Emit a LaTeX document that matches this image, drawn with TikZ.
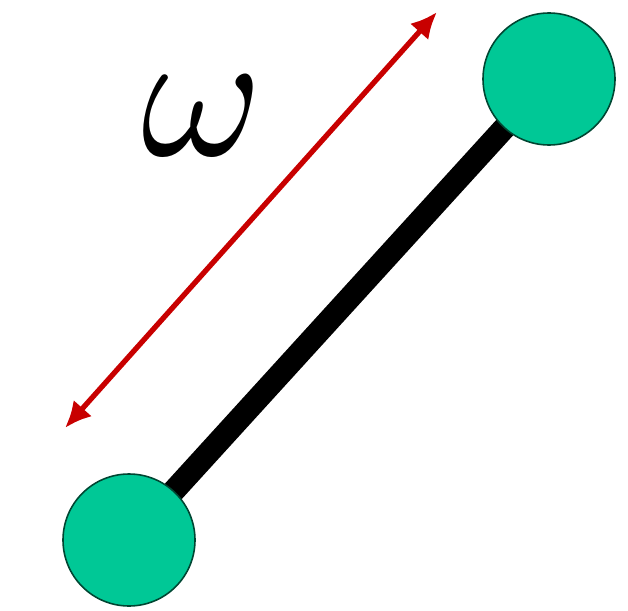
\documentclass[tikz,border=0pt]{standalone}
\usepackage{amsmath, amssymb}
\usepackage{xcolor}
\usepackage{tikz}
\usetikzlibrary{calc, arrows.meta, backgrounds, positioning}

\definecolor{ballgreen}{RGB}{0,200,150}
\definecolor{balledge}{RGB}{0,70,50}
\definecolor{dimred}{RGB}{200,0,0}

\begin{document}
\begin{tikzpicture}[>={Latex[length=15pt,width=14pt]}, x=0.02cm, y=-0.02cm,
    ball/.style={circle, draw=balledge, line width=0.9pt, fill=ballgreen, minimum size=132*0.02cm, inner sep=0pt},
    bar/.style={line width=13pt, black},
    dim/.style={<->, line width=3pt, dimred}]
    \useasboundingbox (0,0) rectangle (628,611);

    % 1. Hai quả cầu
    \node[ball] (top) at (549,79) {};
    \node[ball] (bot) at (129,540) {};

    % 2. Thanh nối
    \begin{pgfonlayer}{background}
        \draw[bar] (bot.center) -- (top.center);
    \end{pgfonlayer}

    % 3. Mũi tên độ dài
    \coordinate (dimA) at (65,428);
    \coordinate (dimB) at (437,12);
    \draw[dim] (dimA) -- (dimB);

    % 4. Nhãn
    \node[scale=10.5] (omg) at (202,116) {$\omega$};
\end{tikzpicture}
\end{document}
